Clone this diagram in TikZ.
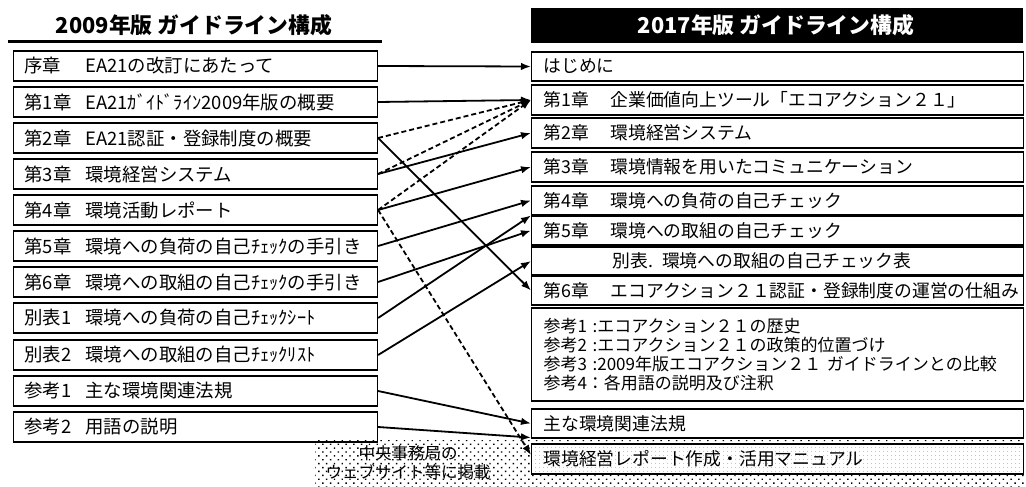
\documentclass[tikz,border=0pt]{standalone}
\usepackage{fontspec}
\newfontfamily\jp{Noto Sans CJK JP}
\usetikzlibrary{arrows.meta,patterns.meta}
\tikzset{
  lfont/.style={font=\jp\fontsize{18.4}{19}\selectfont},
  rfont/.style={font=\jp\fontsize{17.8}{19}\selectfont},
  lbox/.style={lfont, draw=black, line width=1.1pt, text width=342pt, inner xsep=11pt, inner ysep=0pt, minimum height=30pt, align=left, anchor=west},
  rbox/.style={rfont, draw=black, line width=1.1pt, text width=468pt, inner xsep=12pt, inner ysep=0pt, minimum height=#1, align=left, anchor=west},
  rbox/.default=30pt,
  ttl/.style={font=\jp\bfseries\fontsize{21.8}{23}\selectfont},
  conn/.style={line width=1.8pt, -{Latex[length=10pt,width=7.5pt]}},
  dconn/.style={conn, dash pattern=on 5pt off 3pt},
  dotarea/.style={pattern={Dots[distance=5.5pt,angle=45,radius=1pt]}, pattern color=black},
}
\newcommand{\lp}[1]{\makebox[61pt][l]{#1}}
\newcommand{\rp}[1]{\makebox[67pt][l]{#1}}
\begin{document}
\begin{tikzpicture}[x=1pt,y=-1pt]
\useasboundingbox (0,0) rectangle (1026,487);
% dotted web area
\fill[dotarea] (315,440) rectangle (1026,487);
\node[font=\jp\fontsize{16.5}{19.5}\selectfont, align=center] (web) at (408,462.5) {中央事務局の\\ウェブサイト等に掲載};
% titles
\node[ttl] (t1) at (194,25) {2009年版 ガイドライン構成};
\draw[line width=3pt] (8,41.5) coordinate (u1) -- (382,41.5) coordinate (u2);
\fill[black] (531,8) rectangle (1023,43);
\node[ttl, text=white] (t2) at (776,25.5) {2017年版 ガイドライン構成};
% left column
\node[lbox] (L0) at (13,66) {\lp{序章}EA21の改訂にあたって};
\node[lbox] (L1) at (13,102) {\lp{第1章}EA21ｶﾞｲﾄﾞﾗｲﾝ2009年版の概要};
\node[lbox] (L2) at (13,138) {\lp{第2章}EA21認証・登録制度の概要};
\node[lbox] (L3) at (13,174) {\lp{第3章}環境経営システム};
\node[lbox] (L4) at (13,210) {\lp{第4章}環境活動レポート};
\node[lbox] (L5) at (13,246) {\lp{第5章}環境への負荷の自己ﾁｪｯｸの手引き};
\node[lbox] (L6) at (13,282) {\lp{第6章}環境への取組の自己ﾁｪｯｸの手引き};
\node[lbox] (L7) at (13,318) {\lp{別表1}環境への負荷の自己ﾁｪｯｸｼｰﾄ};
\node[lbox] (L8) at (13,355) {\lp{別表2}環境への取組の自己ﾁｪｯｸﾘｽﾄ};
\node[lbox] (L9) at (13,391) {\lp{参考1}主な環境関連法規};
\node[lbox] (L10) at (13,427) {\lp{参考2}用語の説明};
% right column
\node[rbox=29pt] (R0) at (531,66.5) {はじめに};
\node[rbox] (R1) at (531,100) {\rp{第1章}企業価値向上ツール「エコアクション２１」};
\node[rbox] (R2) at (531,133) {\rp{第2章}環境経営システム};
\node[rbox] (R3) at (531,167) {\rp{第3章}環境情報を用いたコミュニケーション};
\node[rbox=29pt] (R4) at (531,200.5) {\rp{第4章}環境への負荷の自己チェック};
\node[rbox=29pt] (R5) at (531,230.5) {\rp{第5章}環境への取組の自己チェック};
\node[rbox=28pt] (R6) at (531,261) {\hspace*{69pt}別表. 環境への取組の自己チェック表};
\node[rbox=29pt] (R7) at (531,290.5) {\rp{第6章}エコアクション２１認証・登録制度の運営の仕組み};
\node[rbox=93pt, font=\jp\fontsize{17}{19}\selectfont] (R8) at (531,354.5) {参考1 :エコアクション２１の歴史\\参考2 :エコアクション２１の政策的位置づけ\\\mbox{参考3 :2009年版エコアクション２１ ガイドラインとの比較}\\参考4：各用語の説明及び注釈};
\node[rbox=29pt] (R9) at (531,423.5) {主な環境関連法規};
\node[rbox, preaction={fill=white}, pattern={Dots[distance=4pt,radius=0.6pt]}, pattern color=black!35] (R10) at (531,459) {環境経営レポート作成・活用マニュアル};
% connectors
\draw[conn] (L0.east) -- (R0.west);
\draw[conn] (L1.east) -- (R1.west);
\draw[dconn] (L2.east) -- (R1.west);
\draw[dconn] (L3.east) -- (R1.west);
\draw[dconn] (L4.east) -- (R1.west);
\draw[conn] (L2.east) -- (R7.west);
\draw[conn] (L3.east) -- (R2.west);
\draw[conn] (L4.east) -- (R3.west);
\draw[dconn] (L4.east) -- ([yshift=4pt]R10.west);
\draw[conn] (L5.east) -- (R4.west);
\draw[conn] (L6.east) -- (R5.west);
\draw[conn] (L7.east) -- (R5.north west);
\draw[conn] (L8.east) -- (R6.west);
\draw[conn] (L9.east) -- (R9.west);
\draw[conn] (L10.east) -- ([yshift=1pt]R9.south west);
\end{tikzpicture}
\end{document}
